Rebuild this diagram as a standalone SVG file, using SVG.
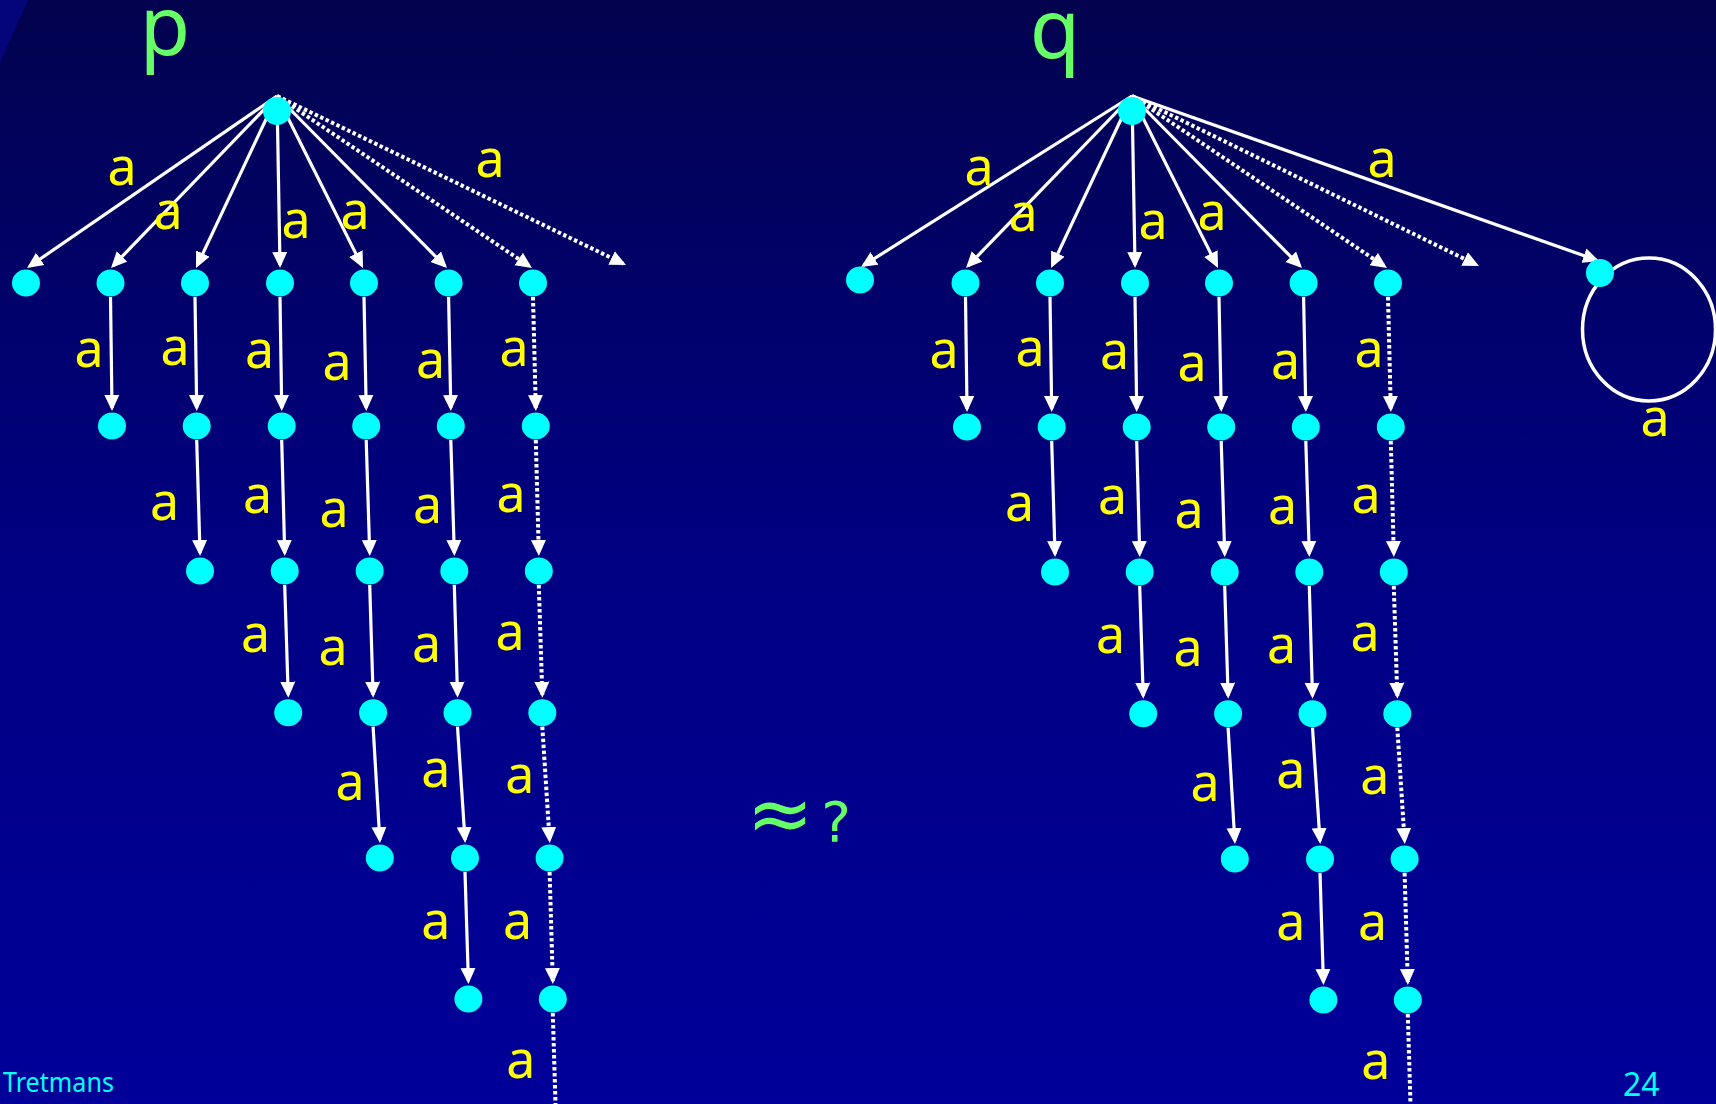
<svg xmlns="http://www.w3.org/2000/svg" width="1716" height="1104" viewBox="0 0 1716 1104">
<defs>
<linearGradient id="bg" x1="0" y1="0" x2="0" y2="1">
<stop offset="0" stop-color="#02024E"/>
<stop offset="0.5" stop-color="#000082"/>
<stop offset="1" stop-color="#00009A"/>
</linearGradient>
<marker id="ah" viewBox="0 0 16 16" refX="13" refY="8" markerWidth="16" markerHeight="16" markerUnits="userSpaceOnUse" orient="auto">
<path d="M0,0.5 L16,8 L0,15.5 z" fill="#FFFFFF"/>
</marker>
<style>
.node ellipse{fill:#00FFFF}
.e{stroke:#FFFFFF;stroke-width:3.2;fill:none;marker-end:url(#ah)}
.d{stroke:#FFFFFF;stroke-width:4;fill:none;stroke-dasharray:3.5 2.5;marker-end:url(#ah)}
.t{stroke:#FFFFFF;stroke-width:4;fill:none;stroke-dasharray:3.5 2.5}
.lbl{fill:#FFFF00;font-family:"Noto Sans",sans-serif;font-size:52px;text-anchor:middle}
.name{fill:#66FF66;font-family:"Noto Sans",sans-serif;font-size:82px;text-anchor:middle}
.foot{fill:#00FFFF;font-family:"Noto Sans",sans-serif}
</style>
</defs>
<rect x="0" y="0" width="1716" height="1104" fill="url(#bg)"/>
<polygon points="0,0 28,0 0,63" fill="#05057A"/>

<text class="name" x="165" y="55">p</text>
<text class="name" x="1055" y="58">q</text>

<g id="connectors">
<!-- p root -->
<line class="e" x1="277" y1="96" x2="29.5" y2="266.3"/>
<line class="e" x1="277" y1="96" x2="113.1" y2="265.8"/>
<line class="e" x1="277" y1="96" x2="197.3" y2="265.3"/>
<line class="e" x1="277" y1="96" x2="280" y2="265"/>
<line class="e" x1="277" y1="96" x2="361.7" y2="265.3"/>
<line class="e" x1="277" y1="96" x2="444.9" y2="265.9"/>
<line class="d" x1="277" y1="96" x2="529.5" y2="266.3"/>
<line class="d" x1="277" y1="96" x2="623.3" y2="263.7"/>
<!-- p columns -->
<line class="e" x1="110.5" y1="297" x2="112" y2="408"/>
<line class="e" x1="195" y1="297" x2="196.7" y2="408"/>
<line class="e" x1="196.7" y1="440" x2="200" y2="553"/>
<line class="e" x1="280" y1="297" x2="281.7" y2="408"/>
<line class="e" x1="281.7" y1="440" x2="284.7" y2="553"/>
<line class="e" x1="284.7" y1="585" x2="288.2" y2="694.7"/>
<line class="e" x1="364" y1="297" x2="366.2" y2="408"/>
<line class="e" x1="366.2" y1="440" x2="369.7" y2="553"/>
<line class="e" x1="369.7" y1="585" x2="373.1" y2="694.7"/>
<line class="e" x1="373.1" y1="726.7" x2="379.8" y2="840"/>
<line class="e" x1="448.6" y1="297" x2="450.8" y2="408"/>
<line class="e" x1="450.8" y1="440" x2="454.3" y2="553"/>
<line class="e" x1="454.3" y1="585" x2="457.5" y2="694.7"/>
<line class="e" x1="457.5" y1="726.7" x2="465" y2="840"/>
<line class="e" x1="465" y1="872" x2="468.4" y2="981"/>
<line class="d" x1="533" y1="297" x2="535.8" y2="408"/>
<line class="d" x1="535.8" y1="440" x2="538.8" y2="553"/>
<line class="d" x1="538.8" y1="585" x2="542.3" y2="694.7"/>
<line class="d" x1="542.3" y1="726.7" x2="549.6" y2="840"/>
<line class="d" x1="549.6" y1="872" x2="552.8" y2="981"/>
<line class="t" x1="552.8" y1="1013" x2="555.5" y2="1104"/>
<!-- q root -->
<line class="e" x1="1132" y1="96" x2="863.5" y2="265.4"/>
<line class="e" x1="1132" y1="96" x2="968.1" y2="265.8"/>
<line class="e" x1="1132" y1="96" x2="1052.3" y2="265.3"/>
<line class="e" x1="1132" y1="96" x2="1135" y2="265"/>
<line class="e" x1="1132" y1="96" x2="1216.7" y2="265.3"/>
<line class="e" x1="1132" y1="96" x2="1299.9" y2="265.9"/>
<line class="d" x1="1132" y1="96" x2="1384.5" y2="266.3"/>
<line class="d" x1="1132" y1="96" x2="1476.3" y2="264.7"/>
<line class="e" x1="1132" y1="96" x2="1596.2" y2="260"/>
<!-- q columns -->
<line class="e" x1="965.5" y1="297" x2="967" y2="409"/>
<line class="e" x1="1050" y1="297" x2="1051.7" y2="409"/>
<line class="e" x1="1051.7" y1="441" x2="1055" y2="554"/>
<line class="e" x1="1135" y1="297" x2="1136.7" y2="409"/>
<line class="e" x1="1136.7" y1="441" x2="1139.7" y2="554"/>
<line class="e" x1="1139.7" y1="586" x2="1143.2" y2="695.7"/>
<line class="e" x1="1219" y1="297" x2="1221.2" y2="409"/>
<line class="e" x1="1221.2" y1="441" x2="1224.7" y2="554"/>
<line class="e" x1="1224.7" y1="586" x2="1228.1" y2="695.7"/>
<line class="e" x1="1228.1" y1="727.7" x2="1234.8" y2="841"/>
<line class="e" x1="1303.6" y1="297" x2="1305.8" y2="409"/>
<line class="e" x1="1305.8" y1="441" x2="1309.3" y2="554"/>
<line class="e" x1="1309.3" y1="586" x2="1312.5" y2="695.7"/>
<line class="e" x1="1312.5" y1="727.7" x2="1320" y2="841"/>
<line class="e" x1="1320" y1="873" x2="1323.4" y2="982"/>
<line class="d" x1="1388" y1="297" x2="1390.8" y2="409"/>
<line class="d" x1="1390.8" y1="441" x2="1393.8" y2="554"/>
<line class="d" x1="1393.8" y1="586" x2="1397.3" y2="695.7"/>
<line class="d" x1="1397.3" y1="727.7" x2="1404.6" y2="841"/>
<line class="d" x1="1404.6" y1="873" x2="1407.8" y2="982"/>
<line class="t" x1="1407.8" y1="1014" x2="1410.5" y2="1104"/>
<!-- self loop -->
<ellipse cx="1649" cy="329.5" rx="66.5" ry="71.5" fill="none" stroke="#FFFFFF" stroke-width="3.5"/>
</g>

<g id="p-nodes">
<g id="p_root" class="node"><ellipse cx="277" cy="111" rx="14" ry="14"/></g>
<g id="p_0_1" class="node"><ellipse cx="26" cy="283" rx="14" ry="13.5"/></g>
<g id="p_1_1" class="node"><ellipse cx="110.5" cy="283" rx="14" ry="13.5"/></g>
<g id="p_1_2" class="node"><ellipse cx="112" cy="426" rx="14" ry="13.5"/></g>
<g id="p_2_1" class="node"><ellipse cx="195" cy="283" rx="14" ry="13.5"/></g>
<g id="p_2_2" class="node"><ellipse cx="196.7" cy="426" rx="14" ry="13.5"/></g>
<g id="p_2_3" class="node"><ellipse cx="200" cy="571" rx="14" ry="13.5"/></g>
<g id="p_3_1" class="node"><ellipse cx="280" cy="283" rx="14" ry="13.5"/></g>
<g id="p_3_2" class="node"><ellipse cx="281.7" cy="426" rx="14" ry="13.5"/></g>
<g id="p_3_3" class="node"><ellipse cx="284.7" cy="571" rx="14" ry="13.5"/></g>
<g id="p_3_4" class="node"><ellipse cx="288.2" cy="712.7" rx="14" ry="13.5"/></g>
<g id="p_4_1" class="node"><ellipse cx="364" cy="283" rx="14" ry="13.5"/></g>
<g id="p_4_2" class="node"><ellipse cx="366.2" cy="426" rx="14" ry="13.5"/></g>
<g id="p_4_3" class="node"><ellipse cx="369.7" cy="571" rx="14" ry="13.5"/></g>
<g id="p_4_4" class="node"><ellipse cx="373.1" cy="712.7" rx="14" ry="13.5"/></g>
<g id="p_4_5" class="node"><ellipse cx="379.8" cy="858" rx="14" ry="13.5"/></g>
<g id="p_5_1" class="node"><ellipse cx="448.6" cy="283" rx="14" ry="13.5"/></g>
<g id="p_5_2" class="node"><ellipse cx="450.8" cy="426" rx="14" ry="13.5"/></g>
<g id="p_5_3" class="node"><ellipse cx="454.3" cy="571" rx="14" ry="13.5"/></g>
<g id="p_5_4" class="node"><ellipse cx="457.5" cy="712.7" rx="14" ry="13.5"/></g>
<g id="p_5_5" class="node"><ellipse cx="465" cy="858" rx="14" ry="13.5"/></g>
<g id="p_5_6" class="node"><ellipse cx="468.4" cy="999" rx="14" ry="13.5"/></g>
<g id="p_6_1" class="node"><ellipse cx="533" cy="283" rx="14" ry="13.5"/></g>
<g id="p_6_2" class="node"><ellipse cx="535.8" cy="426" rx="14" ry="13.5"/></g>
<g id="p_6_3" class="node"><ellipse cx="538.8" cy="571" rx="14" ry="13.5"/></g>
<g id="p_6_4" class="node"><ellipse cx="542.3" cy="712.7" rx="14" ry="13.5"/></g>
<g id="p_6_5" class="node"><ellipse cx="549.6" cy="858" rx="14" ry="13.5"/></g>
<g id="p_6_6" class="node"><ellipse cx="552.8" cy="999" rx="14" ry="13.5"/></g>
</g>

<g id="q-nodes">
<g id="q_root" class="node"><ellipse cx="1132" cy="111" rx="14" ry="14"/></g>
<g id="q_0_1" class="node"><ellipse cx="860" cy="280" rx="14" ry="13.5"/></g>
<g id="q_1_1" class="node"><ellipse cx="965.5" cy="283" rx="14" ry="13.5"/></g>
<g id="q_1_2" class="node"><ellipse cx="967" cy="427" rx="14" ry="13.5"/></g>
<g id="q_2_1" class="node"><ellipse cx="1050" cy="283" rx="14" ry="13.5"/></g>
<g id="q_2_2" class="node"><ellipse cx="1051.7" cy="427" rx="14" ry="13.5"/></g>
<g id="q_2_3" class="node"><ellipse cx="1055" cy="572" rx="14" ry="13.5"/></g>
<g id="q_3_1" class="node"><ellipse cx="1135" cy="283" rx="14" ry="13.5"/></g>
<g id="q_3_2" class="node"><ellipse cx="1136.7" cy="427" rx="14" ry="13.5"/></g>
<g id="q_3_3" class="node"><ellipse cx="1139.7" cy="572" rx="14" ry="13.5"/></g>
<g id="q_3_4" class="node"><ellipse cx="1143.2" cy="713.7" rx="14" ry="13.5"/></g>
<g id="q_4_1" class="node"><ellipse cx="1219" cy="283" rx="14" ry="13.5"/></g>
<g id="q_4_2" class="node"><ellipse cx="1221.2" cy="427" rx="14" ry="13.5"/></g>
<g id="q_4_3" class="node"><ellipse cx="1224.7" cy="572" rx="14" ry="13.5"/></g>
<g id="q_4_4" class="node"><ellipse cx="1228.1" cy="713.7" rx="14" ry="13.5"/></g>
<g id="q_4_5" class="node"><ellipse cx="1234.8" cy="859" rx="14" ry="13.5"/></g>
<g id="q_5_1" class="node"><ellipse cx="1303.6" cy="283" rx="14" ry="13.5"/></g>
<g id="q_5_2" class="node"><ellipse cx="1305.8" cy="427" rx="14" ry="13.5"/></g>
<g id="q_5_3" class="node"><ellipse cx="1309.3" cy="572" rx="14" ry="13.5"/></g>
<g id="q_5_4" class="node"><ellipse cx="1312.5" cy="713.7" rx="14" ry="13.5"/></g>
<g id="q_5_5" class="node"><ellipse cx="1320" cy="859" rx="14" ry="13.5"/></g>
<g id="q_5_6" class="node"><ellipse cx="1323.4" cy="1000" rx="14" ry="13.5"/></g>
<g id="q_6_1" class="node"><ellipse cx="1388" cy="283" rx="14" ry="13.5"/></g>
<g id="q_6_2" class="node"><ellipse cx="1390.8" cy="427" rx="14" ry="13.5"/></g>
<g id="q_6_3" class="node"><ellipse cx="1393.8" cy="572" rx="14" ry="13.5"/></g>
<g id="q_6_4" class="node"><ellipse cx="1397.3" cy="713.7" rx="14" ry="13.5"/></g>
<g id="q_6_5" class="node"><ellipse cx="1404.6" cy="859" rx="14" ry="13.5"/></g>
<g id="q_6_6" class="node"><ellipse cx="1407.8" cy="1000" rx="14" ry="13.5"/></g>
<g id="q_loop" class="node"><ellipse cx="1600" cy="273" rx="14" ry="14"/></g>
</g>

<g id="labels">
<text class="lbl" x="122" y="185">a</text>
<text class="lbl" x="168" y="229">a</text>
<text class="lbl" x="296" y="238">a</text>
<text class="lbl" x="355" y="229">a</text>
<text class="lbl" x="490" y="177">a</text>
<text class="lbl" x="89" y="367">a</text>
<text class="lbl" x="175" y="365">a</text>
<text class="lbl" x="259.5" y="368">a</text>
<text class="lbl" x="337" y="380">a</text>
<text class="lbl" x="430.5" y="378">a</text>
<text class="lbl" x="514" y="366">a</text>
<text class="lbl" x="164.5" y="520">a</text>
<text class="lbl" x="257.5" y="513">a</text>
<text class="lbl" x="334" y="527">a</text>
<text class="lbl" x="427.7" y="523">a</text>
<text class="lbl" x="511" y="512">a</text>
<text class="lbl" x="255.5" y="652">a</text>
<text class="lbl" x="333" y="665">a</text>
<text class="lbl" x="426.5" y="662">a</text>
<text class="lbl" x="510" y="650">a</text>
<text class="lbl" x="350" y="800">a</text>
<text class="lbl" x="435.8" y="787">a</text>
<text class="lbl" x="519.8" y="793">a</text>
<text class="lbl" x="435.8" y="939">a</text>
<text class="lbl" x="517.5" y="939">a</text>
<text class="lbl" x="520.8" y="1078">a</text>

<text class="lbl" x="979" y="185">a</text>
<text class="lbl" x="1023" y="231">a</text>
<text class="lbl" x="1153" y="239">a</text>
<text class="lbl" x="1212" y="230">a</text>
<text class="lbl" x="1382" y="177">a</text>
<text class="lbl" x="944" y="368">a</text>
<text class="lbl" x="1030" y="366">a</text>
<text class="lbl" x="1114.5" y="369">a</text>
<text class="lbl" x="1192" y="381">a</text>
<text class="lbl" x="1285.5" y="379">a</text>
<text class="lbl" x="1369" y="367">a</text>
<text class="lbl" x="1019.5" y="521">a</text>
<text class="lbl" x="1112.5" y="514">a</text>
<text class="lbl" x="1189" y="528">a</text>
<text class="lbl" x="1282.7" y="524">a</text>
<text class="lbl" x="1366" y="513">a</text>
<text class="lbl" x="1110.5" y="653">a</text>
<text class="lbl" x="1188" y="666">a</text>
<text class="lbl" x="1281.5" y="663">a</text>
<text class="lbl" x="1365" y="651">a</text>
<text class="lbl" x="1205" y="801">a</text>
<text class="lbl" x="1290.8" y="788">a</text>
<text class="lbl" x="1374.8" y="794">a</text>
<text class="lbl" x="1290.8" y="940">a</text>
<text class="lbl" x="1372.5" y="940">a</text>
<text class="lbl" x="1375.8" y="1079">a</text>
<text class="lbl" x="1655" y="436">a</text>
</g>

<text fill="#66FF66" font-family="'DejaVu Sans',sans-serif" y="841"><tspan x="780" text-anchor="middle" font-size="80">≈</tspan><tspan x="836" text-anchor="middle" font-size="56">?</tspan></text>

<text class="foot" x="3" y="1092" font-size="28" textLength="111" lengthAdjust="spacingAndGlyphs">Tretmans</text>
<text class="foot" x="1623" y="1096" font-size="32">24</text>
</svg>
